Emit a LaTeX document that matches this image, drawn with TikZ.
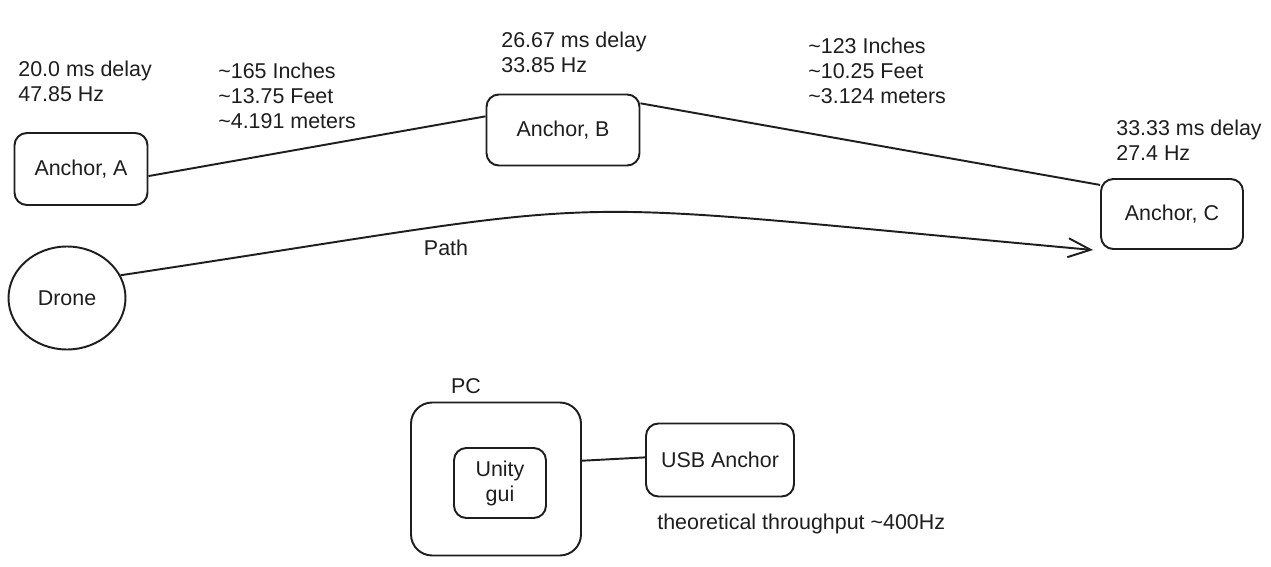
\documentclass[tikz,border=0pt]{standalone}
\usepackage{fontspec}
\setmainfont{Liberation Sans}
\usetikzlibrary{arrows.meta,positioning,shapes.geometric}
\definecolor{sketchink}{HTML}{1E1E1E}

\begin{document}
\begin{tikzpicture}[
        x=0.02cm, y=-0.02cm,
        font=\fontsize{12.2}{14.2}\selectfont, text=sketchink,
        box/.style={draw=sketchink, line width=1.1pt, rounded corners=7pt,
                    align=center, inner sep=2pt},
        ancbox/.style={box, minimum width=2.66cm, minimum height=1.44cm},
        note/.style={align=left, anchor=west, inner sep=0pt},
        link/.style={draw=sketchink, line width=1.1pt},
        flight/.style={link, -{Straight Barb[length=4.5mm, width=3.8mm]}}
    ]
        \path[fill=white, use as bounding box] (0,0) rectangle (1271,567);

        % anchors on the wall
        \node[ancbox] (ancA) at (81,169) {Anchor, A};
        \node[ancbox, minimum width=3.06cm, minimum height=1.42cm] (ancB) at (563,130) {Anchor, B};
        \node[ancbox, minimum width=2.84cm, minimum height=1.40cm] (ancC) at (1172,214) {Anchor, C};

        \node[note] (delayA) at (18,81) {20.0 ms delay\\47.85 Hz};
        \node[note] (delayB) at (501,52) {26.67 ms delay\\33.85 Hz};
        \node[note] (delayC) at (1116,140) {33.33 ms delay\\27.4 Hz};
        \node[note] (distAB) at (218,96) {\textasciitilde165 Inches\\\textasciitilde13.75 Feet\\\textasciitilde4.191 meters};
        \node[note] (distBC) at (808,71) {\textasciitilde123 Inches\\\textasciitilde10.25 Feet\\\textasciitilde3.124 meters};

        \draw[link] (ancA.-6) -- (ancB.170);
        \draw[link] (ancB.19) -- (ancC.158);

        % drone and its path
        \node[draw=sketchink, line width=1.1pt, ellipse, inner sep=0pt,
              minimum width=2.34cm, minimum height=2.06cm] (drone) at (67,298) {Drone};
        \coordinate (pathend) at (1093,250);
        \draw[flight] (drone.23) .. controls (658,194) and (509,197) .. (pathend);
        \node (pathlbl) at (446,248) {Path};

        % ground station
        \node[box, rounded corners=12pt, minimum width=3.4cm, minimum height=3.06cm] (pc) at (496,479) {};
        \node (pclbl) at (466,386) {PC};
        \node[box, minimum width=1.84cm, minimum height=1.40cm] (unity) at (500,483) {Unity\\gui};
        \node[box, minimum width=2.96cm, minimum height=1.46cm] (usb) at (720,460) {USB Anchor};
        \node[note] (rate) at (657,524) {theoretical throughput \textasciitilde400Hz};
        \draw[link] (pc.12) -- (usb.178);
    \end{tikzpicture}
\end{document}
